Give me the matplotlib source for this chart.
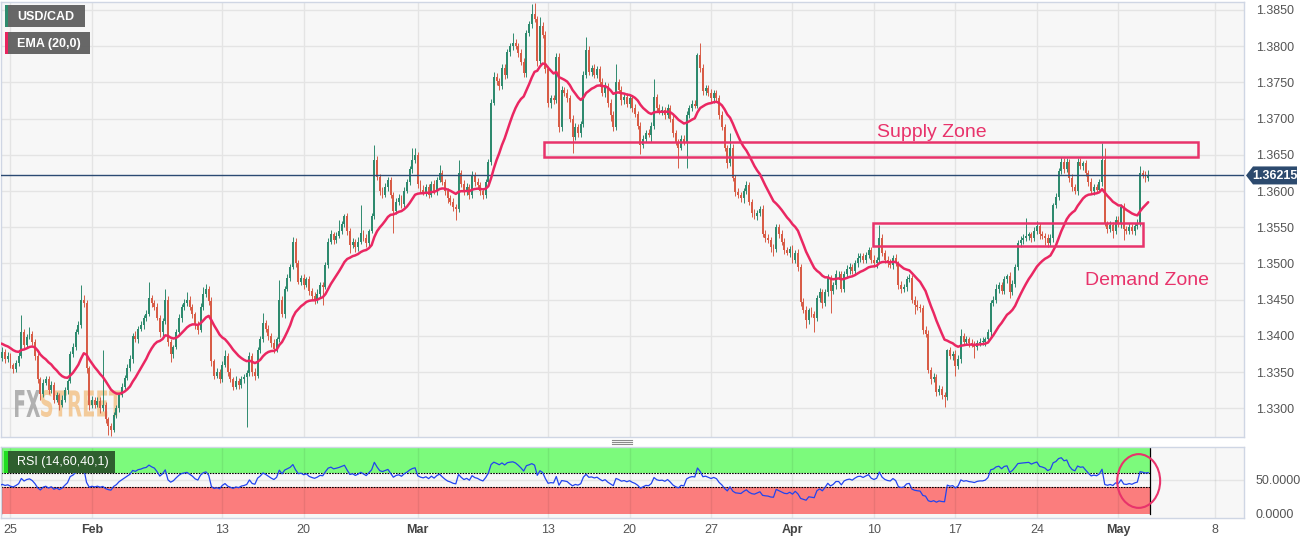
import numpy as np
import pandas as pd
import matplotlib
matplotlib.use('Agg')
import matplotlib.pyplot as plt
from matplotlib.patches import Rectangle, Ellipse, PathPatch, Polygon
from matplotlib.textpath import TextPath
from matplotlib.font_manager import FontProperties
from matplotlib.transforms import Affine2D
from matplotlib.lines import Line2D

plt.rcParams['font.family'] = ['Liberation Sans', 'DejaVu Sans']

# ---------------- data (4H candles, prices in pips above 1.3000) ----------------
BASE = 1.3
PIP = 0.0001
first_open = 365
closes = [
    370, 378, 368, 372, 360, 354, 362, 372, 405, 388,
    398, 402, 392, 372, 340, 320, 335, 340, 325, 332,
    312, 318, 305, 312, 325, 338, 375, 385, 405, 415,
    450, 445, 355, 305, 312, 305, 310, 300, 305, 285,
    275, 270, 290, 300, 318, 330, 342, 355, 368, 400,
    395, 410, 415, 425, 430, 452, 445, 440, 425, 405,
    420, 450, 392, 375, 385, 405, 425, 440, 445, 450,
    440, 430, 415, 408, 440, 458, 465, 448, 365, 345,
    350, 340, 360, 372, 350, 340, 330, 338, 332, 340,
    343, 348, 372, 350, 345, 380, 395, 418, 410, 400,
    390, 382, 395, 450, 430, 465, 480, 495, 530, 500,
    475, 480, 470, 478, 462, 455, 450, 458, 470, 468,
    498, 530, 540, 532, 538, 545, 555, 565, 545, 525,
    530, 522, 530, 542, 535, 528, 545, 565, 643, 620,
    600, 595, 605, 615, 595, 572, 585, 590, 582, 600,
    612, 630, 643, 650, 610, 602, 598, 605, 595, 610,
    600, 615, 625, 612, 600, 590, 585, 578, 575, 625,
    610, 598, 605, 595, 622, 612, 608, 600, 595, 612,
    640, 722, 758, 752, 745, 770, 760, 792, 800, 805,
    800, 790, 778, 763, 818, 830, 845, 838, 780, 828,
    815, 768, 722, 728, 725, 785, 688, 740, 735, 728,
    700, 675, 688, 680, 692, 760, 795, 765, 770, 760,
    768, 750, 735, 745, 722, 705, 688, 750, 740, 725,
    730, 720, 728, 715, 706, 690, 663, 672, 680, 678,
    690, 730, 715, 710, 712, 705, 715, 700, 680, 668,
    660, 672, 668, 705, 715, 720, 718, 788, 770, 738,
    742, 735, 728, 735, 728, 705, 688, 660, 638, 660,
    618, 598, 594, 590, 600, 608, 585, 570, 565, 570,
    575, 540, 535, 532, 522, 520, 550, 540, 530, 518,
    515, 520, 505, 515, 495, 447, 435, 422, 435, 430,
    425, 452, 460, 445, 460, 480, 462, 470, 485, 485,
    465, 485, 492, 495, 490, 500, 508, 510, 505, 512,
    518, 505, 500, 505, 535, 515, 505, 500, 498, 508,
    500, 470, 465, 467, 478, 480, 450, 443, 440, 438,
    408, 402, 353, 340, 343, 322, 326, 318, 315, 380,
    372, 375, 358, 368, 400, 392, 395, 390, 388, 385,
    390, 392, 392, 395, 405, 445, 450, 465, 470, 462,
    478, 482, 460, 472, 495, 528, 532, 535, 538, 540,
    535, 545, 552, 540, 538, 535, 528, 535, 580, 592,
    628, 640, 630, 640, 618, 605, 600, 640, 635, 638,
    625, 612, 600, 605, 602, 612, 643, 555, 548, 553,
    545, 560, 555, 578, 548, 545, 550, 545, 552, 556,
    625, 622, 618, 621.5,
]
upper_wick = [
    5, 6, 4, 5, 4, 3, 5, 6, 24, 5,
    4, 10, 4, 3, 4, 3, 6, 5, 4, 5,
    4, 5, 3, 6, 4, 3, 4, 5, 4, 6,
    20, 6, 4, 3, 5, 4, 6, 5, 75, 4,
    3, 4, 5, 4, 3, 5, 4, 6, 5, 4,
    6, 4, 5, 4, 5, 22, 5, 4, 6, 4,
    4, 15, 5, 4, 3, 4, 5, 4, 6, 10,
    5, 4, 3, 5, 6, 10, 7, 4, 5, 3,
    5, 4, 5, 8, 4, 5, 3, 6, 4, 5,
    4, 5, 6, 4, 5, 4, 5, 14, 4, 5,
    4, 5, 3, 27, 5, 4, 5, 4, 6, 5,
    5, 4, 6, 3, 5, 4, 5, 6, 4, 5,
    4, 5, 6, 4, 5, 15, 4, 3, 5, 4,
    5, 4, 6, 38, 4, 5, 3, 4, 21, 5,
    4, 5, 6, 4, 5, 4, 5, 6, 4, 5,
    5, 4, 16, 9, 4, 5, 6, 4, 5, 4,
    5, 4, 11, 4, 5, 4, 5, 6, 4, 18,
    4, 5, 6, 4, 5, 4, 6, 5, 4, 5,
    4, 5, 6, 5, 4, 6, 5, 4, 5, 13,
    5, 4, 6, 5, 4, 5, 13, 15, 4, 12,
    5, 6, 4, 5, 4, 5, 6, 5, 4, 6,
    4, 5, 6, 4, 5, 6, 18, 5, 4, 5,
    5, 4, 6, 5, 4, 5, 6, 25, 4, 5,
    4, 5, 6, 4, 5, 4, 5, 6, 4, 5,
    5, 25, 4, 5, 6, 4, 5, 4, 5, 4,
    4, 5, 6, 5, 4, 5, 6, 2, 16, 5,
    4, 5, 6, 5, 4, 5, 6, 5, 4, 20,
    5, 4, 6, 5, 4, 6, 5, 4, 5, 4,
    4, 5, 6, 5, 4, 5, 5, 4, 6, 5,
    5, 4, 6, 4, 5, 4, 5, 6, 4, 5,
    4, 5, 6, 5, 4, 5, 4, 5, 6, 4,
    5, 4, 6, 5, 4, 5, 6, 4, 5, 4,
    4, 5, 6, 4, 18, 5, 4, 5, 6, 4,
    5, 4, 6, 5, 4, 5, 4, 5, 6, 4,
    4, 5, 6, 4, 5, 4, 6, 5, 4, 2,
    5, 4, 6, 5, 10, 4, 5, 4, 6, 5,
    4, 5, 6, 4, 5, 4, 5, 6, 4, 5,
    5, 4, 6, 5, 4, 5, 6, 5, 25, 4,
    4, 5, 6, 4, 5, 4, 5, 6, 4, 5,
    4, 7, 5, 6, 4, 5, 4, 6, 5, 4,
    5, 4, 6, 5, 4, 5, 23, 17, 4, 5,
    4, 5, 6, 4, 5, 4, 6, 5, 4, 5,
    10, 4, 5, 8,
]
lower_wick = [
    4, 5, 6, 4, 5, 6, 4, 3, 3, 5,
    5, 3, 4, 6, 5, 8, 4, 3, 5, 4,
    5, 4, 7, 3, 4, 5, 3, 4, 5, 3,
    4, 5, 6, 8, 4, 5, 3, 6, 4, 5,
    12, 8, 3, 4, 5, 3, 4, 3, 4, 5,
    4, 5, 3, 6, 4, 3, 5, 4, 3, 6,
    5, 4, 6, 11, 5, 3, 4, 6, 5, 4,
    4, 5, 6, 5, 3, 4, 4, 5, 6, 5,
    3, 5, 4, 3, 6, 4, 5, 3, 5, 4,
    5, 69, 4, 5, 6, 3, 4, 3, 5, 6,
    5, 6, 4, 3, 4, 5, 3, 4, 3, 5,
    4, 5, 6, 3, 5, 4, 6, 5, 4, 25,
    3, 4, 3, 5, 4, 3, 4, 5, 6, 10,
    4, 6, 5, 3, 4, 5, 4, 3, 3, 5,
    5, 4, 3, 5, 4, 30, 4, 5, 6, 4,
    3, 4, 5, 4, 6, 5, 4, 5, 4, 3,
    4, 5, 3, 4, 5, 6, 4, 5, 15, 4,
    5, 4, 3, 6, 4, 5, 4, 5, 6, 4,
    5, 4, 3, 6, 5, 4, 5, 4, 6, 5,
    4, 5, 4, 5, 6, 4, 5, 4, 8, 5,
    4, 5, 6, 8, 5, 4, 6, 5, 4, 5,
    5, 23, 4, 6, 5, 4, 4, 5, 6, 4,
    4, 5, 4, 5, 6, 8, 5, 4, 5, 6,
    5, 4, 5, 6, 4, 5, 12, 4, 5, 4,
    10, 4, 5, 4, 5, 6, 4, 5, 6, 5,
    28, 4, 5, 36, 4, 5, 4, 4, 5, 6,
    5, 4, 5, 6, 4, 5, 4, 5, 6, 4,
    4, 5, 4, 5, 6, 4, 5, 6, 4, 5,
    5, 4, 5, 4, 6, 10, 4, 5, 4, 5,
    4, 6, 5, 4, 5, 6, 4, 11, 5, 4,
    20, 4, 5, 6, 4, 5, 31, 4, 5, 6,
    4, 5, 4, 6, 5, 4, 5, 6, 4, 5,
    5, 4, 5, 6, 4, 5, 4, 5, 4, 6,
    4, 5, 6, 4, 5, 4, 5, 13, 4, 5,
    5, 4, 5, 6, 4, 5, 4, 5, 13, 4,
    4, 5, 13, 4, 5, 4, 5, 6, 4, 15,
    5, 4, 5, 6, 4, 5, 4, 5, 6, 4,
    4, 5, 8, 4, 5, 4, 6, 5, 4, 5,
    5, 4, 5, 6, 4, 10, 5, 4, 5, 4,
    5, 4, 5, 4, 6, 5, 4, 5, 4, 6,
    4, 5, 4, 6, 5, 4, 5, 4, 6, 5,
    10, 4, 5, 6, 15, 5, 4, 5, 6, 4,
    5, 4, 6, 4,
]
ema_seed = 392          # EMA(20) value before the first candle
rsi_seed_gain = 9       # Wilder averages before the first candle (pips)
rsi_seed_loss = 13

tick_pos = [4, 34, 82, 112, 154, 202, 232, 262, 292, 322, 352, 382, 412, 447.5]
tick_labels = ['25', 'Feb', '13', '20', 'Mar', '13', '20', '27', 'Apr', '10', '17', '24', 'May', '8']
month_labels = ['Feb', 'Mar', 'Apr', 'May']
price_ticks = [1.3300, 1.3350, 1.3400, 1.3450, 1.3500, 1.3550, 1.3600,
               1.3650, 1.3700, 1.3750, 1.3800, 1.3850]
last_price = 1.36215
supply_zone = (1.3647, 1.3668)
supply_span = (200.3, 441.2)
demand_zone = (1.3524, 1.3556)
demand_span = (321.5, 421.0)

# ---------------- derived series ----------------
c = BASE + np.array(closes, float) * PIP
o = BASE + np.r_[first_open, closes[:-1]].astype(float) * PIP
h = np.maximum(o, c) + np.array(upper_wick) * PIP
l = np.minimum(o, c) - np.array(lower_wick) * PIP
x = np.arange(len(c))

ema = pd.Series(np.r_[BASE + ema_seed * PIP, c]).ewm(span=20, adjust=False).mean().values[1:]

delta = np.diff(np.r_[o[0], c]) / PIP
ag, al = rsi_seed_gain, rsi_seed_loss
rsi = []
for d in delta:
    ag = (ag * 13 + max(d, 0)) / 14
    al = (al * 13 + max(-d, 0)) / 14
    rsi.append(100 - 100 / (1 + ag / al) if al > 0 else 100)
rsi = np.array(rsi)

# ---------------- figure ----------------
W, H = 1315, 541
fig = plt.figure(figsize=(W / 100, H / 100), dpi=100, facecolor='white')
ax = fig.add_axes([0.5 / W, 104 / H, 1243 / W, 435 / H])
rax = fig.add_axes([0.5 / W, 23 / H, 1243 / W, 71 / H], sharex=ax)

XL = (0.32, 458.1)
for a in (ax, rax):
    a.set_facecolor('#f7f7f7')
    for s in a.spines.values():
        s.set_color('#cfd6e4')
        s.set_linewidth(1)
ax.set_xlim(*XL)
ax.set_ylim(1.32603, 1.3861)

GRID = '#e4e4e4'
ax.set_axisbelow(True)
ax.grid(True, color=GRID, lw=1)
ax.set_xticks(tick_pos)
ax.tick_params(axis='x', length=0, labelbottom=False)
ax.yaxis.tick_right()
ax.set_yticks(price_ticks)
ax.set_yticklabels(['%.4f' % t for t in price_ticks])
ax.tick_params(axis='y', length=0, pad=9, labelsize=9, labelcolor='#555555')

# watermark
def watermark(txt, x0, x1, ytop, ybot, color):
    tp = TextPath((0, 0), txt, size=1, prop=FontProperties(family='DejaVu Sans', weight='bold'))
    ext = tp.get_extents()
    sx = (x1 - x0) / ext.width
    sy = (ybot - ytop) / ext.height
    tr = Affine2D().translate(-ext.x0, -ext.y0).scale(sx / W, sy / H).translate(x0 / W, (H - ybot) / H) + fig.transFigure
    ax.add_patch(PathPatch(tp, transform=tr, fc=color, ec='none', alpha=0.75, zorder=1.5))
watermark('FX', 15, 40, 390, 417, '#9a9a9a')
watermark('STREET', 41, 122, 390, 417, '#f2bd7c')

# candles
GREEN, RED = '#2e8a6e', '#d85c46'
cols = np.where(c >= o, GREEN, RED)
ax.vlines(x, l, h, colors=cols, lw=0.7, zorder=2.9)
ax.bar(x, np.maximum(np.abs(c - o), 0.4 * PIP), bottom=np.minimum(o, c), width=0.72,
       color=cols, linewidth=0, zorder=3)
ax.plot(x, ema, color='#ea2762', lw=1.8, zorder=4, solid_capstyle='round')

ax.axhline(last_price, color='#2b4a73', lw=1, zorder=3.5)

PINK = '#e8336b'
ax.add_patch(Rectangle((supply_span[0], supply_zone[0]), supply_span[1] - supply_span[0],
                       supply_zone[1] - supply_zone[0], fill=False, ec=PINK, lw=1.8, zorder=5))
ax.add_patch(Rectangle((demand_span[0], demand_zone[0]), demand_span[1] - demand_span[0],
                       demand_zone[1] - demand_zone[0], fill=False, ec=PINK, lw=1.8, zorder=5))
ax.text(343.2, 1.3681, 'Supply Zone', color=PINK, fontsize=14, ha='center', va='center', zorder=6)
ax.text(422.4, 1.3477, 'Demand Zone', color=PINK, fontsize=14, ha='center', va='center', zorder=6)

# RSI panel
rax.set_ylim(-5.9, 98.5)
band_end = len(c) - 0.5
rax.add_patch(Rectangle((XL[0], 60), band_end - XL[0], 40, fc='#7cfa7c', ec='none', zorder=0.5))
rax.add_patch(Rectangle((XL[0], 0), band_end - XL[0], 40, fc='#fb7d7d', ec='none', zorder=0.5))
rax.plot([XL[0], band_end], [60, 60], color='black', lw=0.8, ls=(0, (1.5, 1)), zorder=2)
rax.plot([XL[0], band_end], [40, 40], color='black', lw=0.8, ls=(0, (1.5, 1)), zorder=2)
rax.plot([band_end, band_end], [0, 98.5], color='black', lw=0.9, zorder=2)
rax.plot([XL[0] + 0.3, XL[0] + 0.3], [0, 98.5], color='black', lw=0.9, zorder=2)
rax.set_xticks(tick_pos)
rax.yaxis.tick_right()
rax.set_yticks([0, 50])
# light grid drawn on top of the bands (semi-transparent so it darkens the bands slightly)
for tp_ in tick_pos:
    rax.axvline(tp_, color='#000000', alpha=0.07, lw=1, zorder=1)
rax.axhline(50, color='#000000', alpha=0.07, lw=1, zorder=1)
rax.plot(x, rsi, color='#2244ee', lw=0.9, zorder=3)
rax.add_patch(Ellipse((419.5, 48.5), width=15.8, height=79, fill=False, ec=PINK, lw=1.5,
                      zorder=6, clip_on=False))
rax.set_yticklabels(['0.0000', '50.0000'])
rax.tick_params(axis='y', length=0, pad=9, labelsize=9, labelcolor='#555555')
rax.set_xticklabels(tick_labels)
rax.tick_params(axis='x', length=0, pad=4, labelsize=9, labelcolor='#555555')
for t in rax.get_xticklabels():
    if t.get_text() in month_labels:
        t.set_fontweight('bold')
        t.set_color('#444444')

# ---------------- overlay boxes (figure pixel coords from top-left) ----------------
def fxy(px, py):
    return px / W, 1 - py / H

def box(x0, y0, x1, y1, color, alpha=1.0, z=10):
    fig.patches.append(Rectangle(fxy(x0, y1), (x1 - x0) / W, (y1 - y0) / H, transform=fig.transFigure,
                                 fc=color, ec='none', alpha=alpha, zorder=z))

box(5, 5, 85, 27, '#5f5f5f', 0.95)
box(5, 5, 8, 27, '#2e8b6e')
fig.text(*fxy(17, 16.5), 'USD/CAD', color='white', fontsize=9, fontweight='bold', va='center', zorder=11)
box(5, 32, 90, 54, '#5f5f5f', 0.95)
box(5, 32, 8, 54, '#e8245f')
fig.text(*fxy(17, 43.5), 'EMA (20,0)', color='white', fontsize=9, fontweight='bold', va='center', zorder=11)

box(7.6, 451, 115, 473, '#2f5f2f')
box(4, 451, 7.6, 473, '#22dd22')
fig.text(*fxy(17, 462.5), 'RSI (14,60,40,1)', color='white', fontsize=9, va='center', zorder=11)

# panel handle
for yy in (439.5, 441.5, 443.5):
    fig.lines.append(Line2D([612 / W, 632 / W], [1 - yy / H] * 2, transform=fig.transFigure,
                            color='#8a8a8a', lw=0.8))

# last price tag
ypix = ax.transData.transform((0, last_price))[1]
yt = H - ypix
pts = [(1246, yt), (1253, yt - 9), (1297, yt - 9), (1297, yt + 9), (1253, yt + 9)]
fig.patches.append(Polygon([fxy(px, py) for px, py in pts], closed=True, transform=fig.transFigure,
                           fc='#2c4a6e', ec='none', zorder=10))
fig.text(*fxy(1275, yt + 0.5), '1.36215', color='white', fontsize=9, fontweight='bold',
         ha='center', va='center', zorder=11)

fig.savefig('out.png', dpi=100, facecolor='white')
